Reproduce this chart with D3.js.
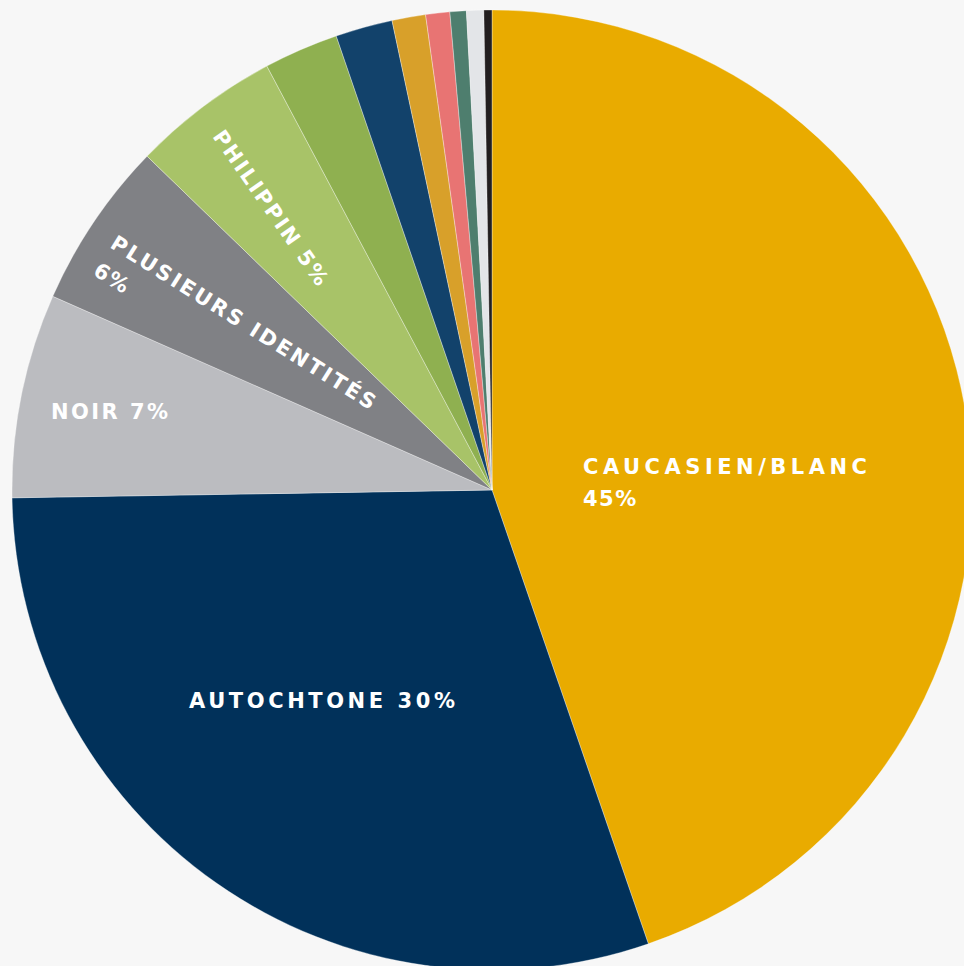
<!DOCTYPE html>
<html>
<head>
<meta charset="utf-8">
<script src="https://cdn.jsdelivr.net/npm/d3@7"></script>
<style>
  html, body { margin: 0; padding: 0; background: #f7f7f7; }
  svg { display: block; }
  .lbl { font-family: "DejaVu Sans", sans-serif; font-weight: 700; fill: #ffffff; }
</style>
</head>
<body>
<svg id="chart" width="964" height="966"></svg>
<script>
// ---- data ----
const categories = [
  "Caucasien/Blanc", "Autochtone", "Noir", "Plusieurs identités", "Philippin",
  "Sud-asiatique", "Chinois", "Latino-américain", "Arabe", "Asiatique du Sud-Est",
  "Autre", "Non déclaré"
];
const values = [44.72, 30.02, 6.87, 5.63, 4.99, 2.51, 1.92, 1.13, 0.81, 0.55, 0.58, 0.27];
const colors = [
  "#E9AB00", "#01315A", "#BBBCC0", "#808185", "#A8C368",
  "#8FB050", "#12426B", "#D8A02A", "#E87473", "#4E7E6E",
  "#E3E5E8", "#221E1F"
];
const labelLines = [
  ["CAUCASIEN/BLANC", "45%"],
  ["AUTOCHTONE 30%"],
  ["NOIR 7%"],
  ["PLUSIEURS IDENTITÉS", "6%"],
  ["PHILIPPIN 5%"]
];

// ---- layout ----
const cx = 492, cy = 490, R = 480;
const fontSize = 21, lineH = 32;
// label placement: baseline-left of first line, rotation, target widths per line (null = natural)
const labelLayout = [
  { x: 583, y: 473.5, rot: 0, w: [284, null] },
  { x: 189, y: 708, rot: 0, w: [266] },
  { x: 51,  y: 418.5, rot: 0, w: [117] },
  { x: 109, y: 247, rot: 32, w: [308, null] },
  { x: 212, y: 136.5, rot: 55, w: [184] }
];

const svg = d3.select("#chart");
const g = svg.append("g").attr("transform", `translate(${cx},${cy})`);

const pie = d3.pie().sort(null).value(d => d).startAngle(0).endAngle(2 * Math.PI);
const arc = d3.arc().innerRadius(0).outerRadius(R);

g.selectAll("path.slice")
  .data(pie(values))
  .join("path")
  .attr("class", "slice")
  .attr("d", arc)
  .attr("fill", (d, i) => colors[i])
  .attr("stroke", "rgba(255,255,255,0.55)")
  .attr("stroke-width", 0.6);

labelLines.forEach((lines, i) => {
  const L = labelLayout[i];
  const t = svg.append("g")
    .attr("transform", `translate(${L.x},${L.y}) rotate(${L.rot})`);
  lines.forEach((line, j) => {
    const txt = t.append("text")
      .attr("class", "lbl")
      .attr("x", 0)
      .attr("y", j * lineH)
      .attr("font-size", fontSize)
      .text(line);
    if (L.w[j]) {
      txt.attr("textLength", L.w[j]).attr("lengthAdjust", "spacing");
    } else {
      txt.attr("letter-spacing", 1.5);
    }
  });
});
</script>
</body>
</html>
